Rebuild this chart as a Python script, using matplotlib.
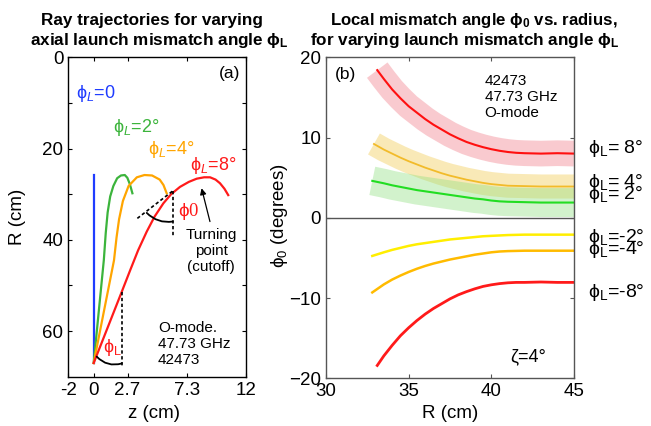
import numpy as np
import matplotlib
matplotlib.use("Agg")
import matplotlib.pyplot as plt

plt.rcParams['font.family'] = ['Liberation Sans', 'DejaVu Sans']
plt.rcParams['mathtext.fontset'] = 'custom'
plt.rcParams['mathtext.rm'] = 'Liberation Sans'
plt.rcParams['mathtext.it'] = 'Liberation Sans:italic'
plt.rcParams['mathtext.bf'] = 'Liberation Sans:bold'
plt.rcParams['mathtext.sf'] = 'Liberation Serif'

PHI = 'ϕ'

# ---------------- data: panel (a) ray trajectories (z, R) ----------------
ray_blue_z = [0.0, 0.0]
ray_blue_R = [67.0, 25.8]
ray_green_z = [0.0, 0.8, 0.95, 1.1, 1.3, 1.55, 1.85, 2.15, 2.45, 2.65, 2.85, 3.05]
ray_green_R = [67.0, 44.4, 38.5, 34.0, 30.5, 28.2, 26.5, 25.9, 25.8, 26.4, 27.8, 29.8]
ray_orange_z = [0.0, 1.6, 1.8, 2.0, 2.3, 2.75, 3.4, 4.0, 4.6, 5.2, 5.5, 5.75]
ray_orange_R = [67.0, 44.5, 39.5, 35.5, 31.5, 28.2, 26.3, 25.8, 25.9, 26.8, 28.0, 29.8]
ray_red_z = [0.0, 2.21, 2.87, 3.5, 4.18, 4.8, 5.49, 6.1, 6.8, 7.5, 8.12, 8.7, 9.17, 9.6, 9.95, 10.3, 10.6]
ray_red_R = [67.0, 51.4, 46.7, 42.3, 38.2, 34.9, 32.0, 30.0, 28.4, 27.3, 26.6, 26.3, 26.3, 26.8, 27.6, 28.8, 30.2]

# ---------------- data: panel (b) local mismatch angle vs radius ----------------
R_p8 = [33.1, 33.5, 34.0, 34.5, 35.0, 35.5, 36.0, 36.5, 37.0, 37.5, 38.0, 38.5, 39.0, 39.5, 40.0, 40.5, 41.0, 41.5, 42.0, 43.0, 44.0, 45.0]
phi_p8 = [18.4, 17.3, 16.0, 14.9, 13.9, 13.1, 12.3, 11.6, 11.0, 10.4, 9.9, 9.45, 9.1, 8.8, 8.55, 8.35, 8.2, 8.1, 8.05, 8.0, 8.05, 8.0]
R_p4 = [32.9, 33.5, 34.0, 34.5, 35.0, 35.5, 36.0, 36.5, 37.0, 37.5, 38.0, 38.5, 39.0, 39.5, 40.0, 40.5, 41.0, 42.0, 43.0, 45.0]
phi_p4 = [9.2, 8.5, 8.0, 7.5, 7.05, 6.65, 6.25, 5.9, 5.55, 5.25, 5.0, 4.75, 4.55, 4.35, 4.2, 4.1, 4.0, 3.95, 3.9, 3.9]
R_p2 = [32.8, 33.5, 34.0, 34.5, 35.0, 35.5, 36.0, 36.5, 37.0, 37.5, 38.0, 38.5, 39.0, 39.5, 40.0, 40.5, 41.0, 42.0, 43.0, 45.0]
phi_p2 = [4.6, 4.3, 4.05, 3.85, 3.65, 3.45, 3.3, 3.15, 3.0, 2.85, 2.7, 2.55, 2.4, 2.3, 2.15, 2.05, 2.0, 1.95, 1.9, 1.9]
R_m2 = [32.8, 33.5, 34.0, 34.5, 35.0, 35.5, 36.0, 36.5, 37.0, 37.5, 38.0, 38.5, 39.0, 39.5, 40.0, 41.0, 42.0, 43.0, 45.0]
phi_m2 = [-4.75, -4.3, -4.0, -3.75, -3.5, -3.3, -3.15, -3.0, -2.85, -2.7, -2.6, -2.5, -2.4, -2.3, -2.25, -2.15, -2.1, -2.1, -2.1]
R_m4 = [32.8, 33.5, 34.0, 34.5, 35.0, 35.5, 36.0, 36.5, 37.0, 37.5, 38.0, 38.5, 39.0, 39.5, 40.0, 40.5, 41.0, 42.0, 43.0, 45.0]
phi_m4 = [-9.3, -8.3, -7.7, -7.2, -6.75, -6.35, -6.0, -5.7, -5.45, -5.2, -5.0, -4.8, -4.6, -4.45, -4.3, -4.2, -4.15, -4.1, -4.1, -4.1]
R_m8 = [33.1, 33.5, 34.0, 34.5, 35.0, 35.5, 36.0, 36.5, 37.0, 37.5, 38.0, 38.5, 39.0, 39.5, 40.0, 40.5, 41.0, 41.5, 42.0, 43.0, 44.0, 45.0]
phi_m8 = [-18.4, -17.2, -15.9, -14.7, -13.7, -12.8, -12.0, -11.3, -10.7, -10.1, -9.6, -9.2, -8.85, -8.55, -8.35, -8.2, -8.1, -8.05, -8.05, -8.0, -8.05, -8.05]

band_halfwidth_p8 = 1.6
band_halfwidth_p4 = 1.5
band_halfwidth_p2 = 1.8

fig = plt.figure(figsize=(6.51, 4.26), dpi=100)
axa = fig.add_axes([68.3/651, 1-376.7/426, 177.7/651, 319.4/426])
axb = fig.add_axes([326/651, 1-378.3/426, 248/651, 321/426])

TICK_FS = 13.5
# ---------------- panel (a) ----------------
axa.set_xlim(-2, 12)
axa.set_ylim(70, 0)
lw = 1.6
axa.plot(ray_blue_z, ray_blue_R, color='#1f3cff', lw=lw)
axa.plot(ray_green_z, ray_green_R, color='#3cb43c', lw=lw)
axa.plot(ray_orange_z, ray_orange_R, color='#ffa500', lw=lw)
axa.plot(ray_red_z, ray_red_R, color='#ff1a1a', lw=lw)

axa.set_xticks([-2, 0, 8/3, 22/3, 12])
axa.set_xticklabels(['-2', '0', '2.7', '7.3', '12'])
axa.set_yticks([0, 10, 20, 30, 40, 50, 60])
axa.set_yticklabels(['0', '', '20', '', '40', '', '60'])
axa.tick_params(direction='in', length=3, labelsize=TICK_FS, top=True, right=True, width=0.8)
for s in axa.spines.values():
    s.set_linewidth(1.0)

# dashed guide lines
axa.plot([2.21, 2.21], [51.4, 67.8], ls=(0, (2, 1.5)), color='k', lw=1.2)
axa.plot([3.44, 6.27], [35.3, 29.2], ls=(0, (2, 1.5)), color='k', lw=1.2)
axa.plot([6.27, 6.27], [29.2, 39.3], ls=(0, (2, 1.5)), color='k', lw=1.2)
# angle arcs
axa.annotate('', xy=(6.22, 36.0), xytext=(4.18, 34.1),
             arrowprops=dict(arrowstyle='-', color='k', lw=1.3, shrinkA=0, shrinkB=0,
                             connectionstyle='arc3,rad=0.25'))
axa.annotate('', xy=(2.21, 67.1), xytext=(0.24, 65.6),
             arrowprops=dict(arrowstyle='-', color='k', lw=1.3, shrinkA=0, shrinkB=0,
                             connectionstyle='arc3,rad=0.3'))
# turning point arrow
axa.annotate('', xy=(8.5, 28.7), xytext=(9.16, 36.0),
             arrowprops=dict(arrowstyle='-|>', color='k', lw=0.9, mutation_scale=9,
                             shrinkA=0, shrinkB=0))

axa.text(10.74, 3.5, '(a)', fontsize=12.5, ha='center', va='center')
axa.text(-1.4, 7.9, PHI + '$_{L}$=0', color='#1f3cff', fontsize=13, ha='left', va='center')
axa.text(1.52, 15.3, PHI + '$_{L}$=2°', color='#3cb43c', fontsize=13, ha='left', va='center')
axa.text(4.28, 20.3, PHI + '$_{L}$=4°', color='#ffa500', fontsize=13, ha='left', va='center')
axa.text(7.59, 23.8, PHI + '$_{L}$=8°', color='#ff1a1a', fontsize=13, ha='left', va='center')
axa.text(6.64, 33.9, PHI + '$\\mathsf{0}$', color='#ff1a1a', fontsize=13.5, ha='left', va='center')
axa.text(9.25, 42.5, 'Turning\npoint\n(cutoff)', fontsize=11, ha='center', va='center', linespacing=1.2)
axa.text(5.07, 62.8, 'O-mode.\n47.73 GHz\n42473', fontsize=11, ha='left', va='center', linespacing=1.2)
axa.text(0.74, 63.5, PHI + '$_\\mathregular{L}$', color='#ff1a1a', fontsize=13, ha='left', va='center')

# ---------------- panel (b) ----------------
axb.set_xlim(30, 45)
axb.set_ylim(-20, 20)
band_lw_pt = lambda hw: hw * 2 * (321/40) * 72/100
axb.plot(R_p8, phi_p8, color='#f6a8b0', alpha=0.6, lw=band_lw_pt(band_halfwidth_p8), solid_capstyle='butt', solid_joinstyle='round')
axb.plot(R_p4, phi_p4, color='#f3cf60', alpha=0.45, lw=band_lw_pt(band_halfwidth_p4), solid_capstyle='butt', solid_joinstyle='round')
axb.plot(R_p2, phi_p2, color='#90e080', alpha=0.4, lw=band_lw_pt(band_halfwidth_p2), solid_capstyle='butt', solid_joinstyle='round')
axb.plot(R_p8, phi_p8, color='#ff1010', lw=1.5)
axb.plot(R_p4, phi_p4, color='#f2bb2a', lw=1.3)
axb.plot(R_p2, phi_p2, color='#22dd22', lw=1.5)
axb.plot(R_m2, phi_m2, color='#ffee00', lw=1.8)
axb.plot(R_m4, phi_m4, color='#ffbb00', lw=1.8)
axb.plot(R_m8, phi_m8, color='#ff1a1a', lw=2.0)
axb.axhline(0, color='#555555', lw=1.0)

axb.set_xticks([30, 35, 40, 45])
axb.set_yticks([-20, -10, 0, 10, 20])
axb.tick_params(direction='in', length=3, labelsize=TICK_FS, top=True, right=True, color='#555555')
for s in axb.spines.values():
    s.set_color('#555555')
    s.set_linewidth(1.0)

axb.text(31.15, 17.8, '(b)', fontsize=12.5, ha='center', va='center')
axb.text(39.6, 15.05, '42473\n47.73 GHz\nO-mode', fontsize=11, ha='left', va='center', linespacing=1.2)
axb.text(42.2, -17.35, 'ζ=4°', fontsize=13, ha='center', va='center')

right_labels = [PHI + '$_\\mathregular{L}$= 8°', PHI + '$_\\mathregular{L}$= 4°', PHI + '$_\\mathregular{L}$= 2°',
                PHI + '$_\\mathregular{L}$=-2°', PHI + '$_\\mathregular{L}$=-4°', PHI + '$_\\mathregular{L}$=-8°']
right_label_phi = [8.1, 3.8, 2.34, -2.98, -4.5, -9.9]
for lab, yv in zip(right_labels, right_label_phi):
    axb.text(45.85, yv, lab, fontsize=14, ha='left', va='baseline', clip_on=False)

# ---------------- titles & axis labels ----------------
fig.text(152/651, 1-21/426, 'Ray trajectories for varying', fontsize=12.3, fontweight='bold', ha='center', va='center')
fig.text(159/651, 1-40/426, 'axial launch mismatch angle ' + PHI + '$_\\mathbf{L}$', fontsize=12.3, fontweight='bold', ha='center', va='center')
fig.text(474/651, 1-21/426, 'Local mismatch angle ' + PHI + '$_\\mathbf{0}$ vs. radius,', fontsize=12.1, fontweight='bold', ha='center', va='center')
fig.text(465/651, 1-40/426, 'for varying launch mismatch angle ' + PHI + '$_\\mathbf{L}$', fontsize=12.3, fontweight='bold', ha='center', va='center')

fig.text(17/651, 1-217/426, 'R (cm)', fontsize=13.5, rotation=90, ha='center', va='center')
fig.text(154/651, 1-413/426, 'z (cm)', fontsize=13.5, ha='center', va='center')
fig.text(279/651, 1-216/426, PHI + '$_\\mathregular{0}$ (degrees)', fontsize=13.5, rotation=90, ha='center', va='center')
fig.text(450/651, 1-413/426, 'R (cm)', fontsize=13.5, ha='center', va='center')

fig.savefig('out.png', dpi=100)
